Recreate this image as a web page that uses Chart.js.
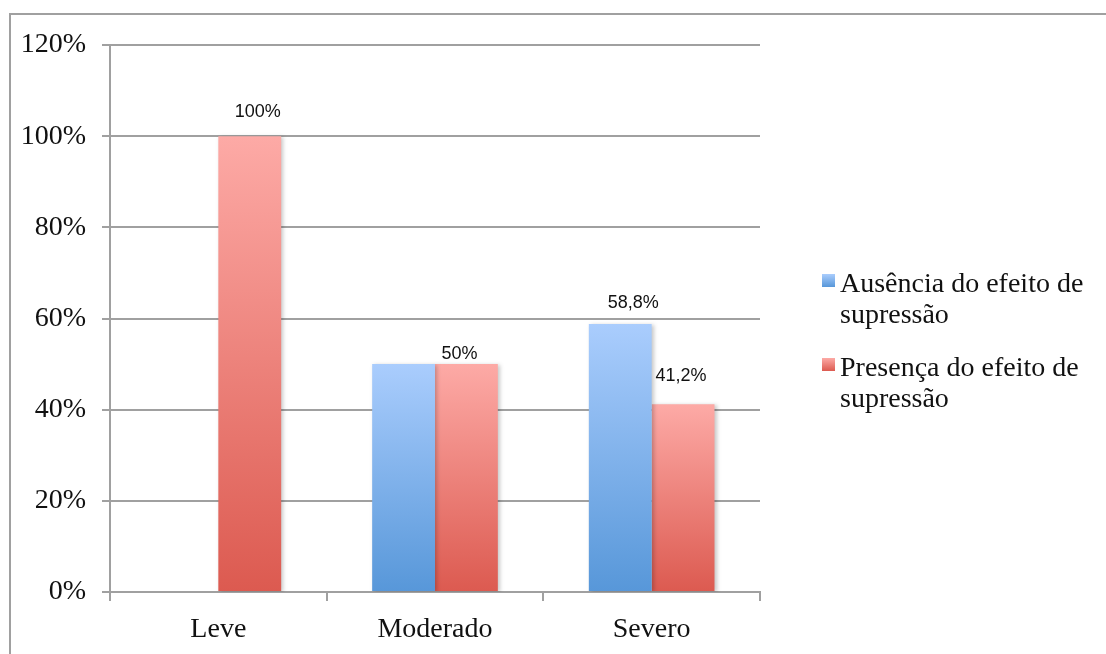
<!DOCTYPE html>
<html>
<head>
<meta charset="utf-8">
<script src="https://cdn.jsdelivr.net/npm/chart.js@4.4.0/dist/chart.umd.min.js"></script>
<style>
  body { margin: 0; background: #fff; overflow: hidden; }
  #frame { position: absolute; left: 9px; top: 13px; width: 1200px; height: 700px;
           border-left: 2px solid #a0a0a0; border-top: 2px solid #a0a0a0; }
  #myChart { position: absolute; left: 0; top: 0; }
</style>
</head>
<body>
<div id="frame"></div>
<canvas id="myChart" width="1106" height="654"></canvas>
<script>
let ctx = document.getElementById('myChart').getContext('2d')

let categories = ['Leve', 'Moderado', 'Severo']
let seriesNames = ['Ausência do efeito de supressão', 'Presença do efeito de supressão']
let ausencia = [0, 50, 58.8]
let presenca = [100, 50, 41.2]
// value labels printed over the bars (null -> no label)
let ausenciaLabels = [null, null, '58,8%']
let presencaLabels = ['100%', '50%', '41,2%']
let yTicks = [0, 20, 40, 60, 80, 100, 120]

let serifFont = '"Liberation Serif", "DejaVu Serif", serif'
let sansFont = '"Liberation Sans", Arial, sans-serif'

// light at the top of each bar, darker at the base
let blueStops = ['#aacdfd', '#5797d9']
let redStops = ['#fdaaa6', '#dc5a50']

const barGradient = (stops) => (c) => {
    let chart = c.chart
    let y = chart.scales.y
    if (!chart.chartArea || !y || c.raw == null) return stops[1]
    let top = y.getPixelForValue(c.raw)
    let bottom = y.getPixelForValue(0)
    if (bottom - top < 1) return stops[1]
    let g = chart.ctx.createLinearGradient(0, top, 0, bottom)
    g.addColorStop(0, stops[0])
    g.addColorStop(1, stops[1])
    return g
}

// soft drop shadow under the bars
const barShadow = {
    id: 'barShadow',
    beforeDatasetsDraw(chart) {
        let c = chart.ctx
        c.save()
        c.shadowColor = 'rgba(0,0,0,0.22)'
        c.shadowBlur = 4
        c.shadowOffsetX = 2
        c.shadowOffsetY = 1
    },
    afterDatasetsDraw(chart) {
        chart.ctx.restore()
    }
}

const valueLabels = {
    id: 'valueLabels',
    afterDatasetsDraw(chart, args, opts) {
        let c = chart.ctx
        c.save()
        c.font = '18px ' + sansFont
        c.fillStyle = '#111'
        c.textAlign = 'center'
        c.textBaseline = 'bottom'
        chart.data.datasets.forEach((ds, i) => {
            let meta = chart.getDatasetMeta(i)
            meta.data.forEach((bar, j) => {
                let txt = ds.valueLabels[j]
                if (!txt) return
                // labels were dragged a little by hand in the source sheet
                let nudge = (opts.nudge[i] && opts.nudge[i][j]) || [0, 14]
                c.fillText(txt, bar.x + nudge[0], bar.y - nudge[1])
            })
        })
        c.restore()
    }
}

// legend on the right, wrapped onto two lines
const sideLegend = {
    id: 'sideLegend',
    afterDraw(chart) {
        let c = chart.ctx
        c.save()
        c.font = '28px ' + serifFont
        c.fillStyle = '#111'
        c.textBaseline = 'alphabetic'
        let x = 822
        let y = 292
        chart.data.datasets.forEach((ds) => {
            let words = ds.label.split(' ')
            let lines = []
            let cur = ''
            for (let w of words) {
                let t = cur ? cur + ' ' + w : w
                if (c.measureText(t).width > 255 && cur) {
                    lines.push(cur)
                    cur = w
                } else {
                    cur = t
                }
            }
            lines.push(cur)
            let g = c.createLinearGradient(0, y - 18, 0, y - 5)
            g.addColorStop(0, ds.stops[0])
            g.addColorStop(1, ds.stops[1])
            c.fillStyle = g
            c.fillRect(x, y - 18, 13, 13)
            c.fillStyle = '#111'
            lines.forEach((ln, k) => c.fillText(ln, x + 18, y + k * 31))
            y += lines.length * 31 + 22
        })
        c.restore()
    }
}

let chart = new Chart(ctx, {
    type: 'bar',
    data: {
        labels: categories,
        datasets: [
            {
                label: seriesNames[0],
                data: ausencia,
                valueLabels: ausenciaLabels,
                stops: blueStops,
                backgroundColor: barGradient(blueStops),
                borderWidth: 0
            },
            {
                label: seriesNames[1],
                data: presenca,
                valueLabels: presencaLabels,
                stops: redStops,
                backgroundColor: barGradient(redStops),
                borderWidth: 0
            }
        ]
    },
    options: {
        responsive: false,
        animation: false,
        devicePixelRatio: 1,
        layout: { padding: { left: 0, top: 45, right: 346, bottom: 0 } },
        datasets: { bar: { categoryPercentage: 0.58, barPercentage: 1.0 } },
        plugins: {
            legend: { display: false },
            tooltip: { enabled: false },
            valueLabels: {
                nudge: [
                    [null, null, [13, 12]],
                    [[8, 15], [-7, 1], [-2, 19]]
                ]
            }
        },
        scales: {
            x: {
                grid: { drawOnChartArea: false, drawTicks: true, tickLength: 9, color: '#a0a0a0', lineWidth: 2 },
                border: { color: '#a0a0a0', width: 2 },
                ticks: { color: '#111', font: { family: serifFont, size: 28 }, padding: 12 },
                afterFit: (s) => { s.height = 62 }
            },
            y: {
                min: 0,
                max: 120,
                afterBuildTicks: (s) => { s.ticks = yTicks.map(v => ({ value: v })) },
                grid: { color: '#a0a0a0', lineWidth: 2, tickLength: 8 },
                border: { color: '#a0a0a0', width: 2 },
                ticks: {
                    color: '#111',
                    font: { family: serifFont, size: 28 },
                    padding: 16,
                    callback: (v) => v + '%'
                },
                afterFit: (s) => { s.width = 110 }
            }
        }
    },
    plugins: [barShadow, valueLabels, sideLegend]
})
</script>
</body>
</html>
